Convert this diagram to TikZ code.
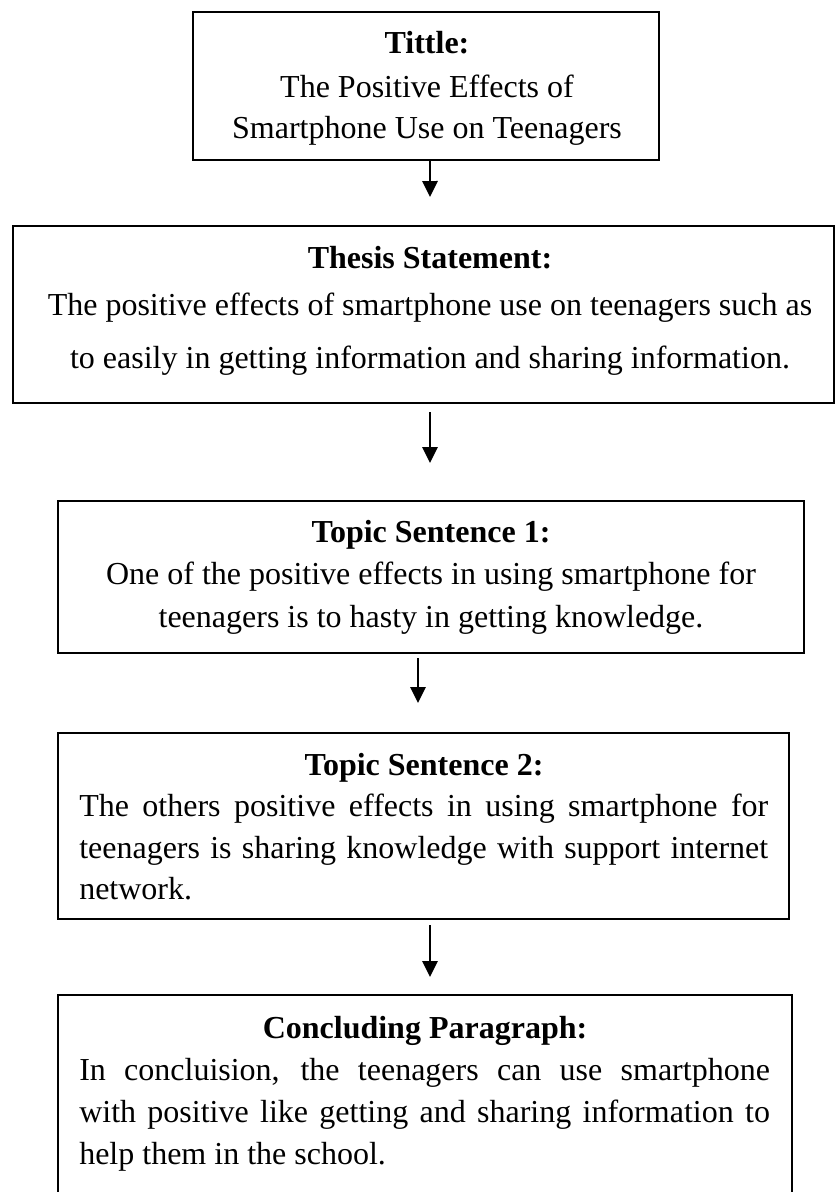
\documentclass[tikz,border=0pt]{standalone}
\usepackage{fontspec}
\setmainfont{Liberation Serif}
\usetikzlibrary{arrows.meta}
\begin{document}
\begin{tikzpicture}[x=0.75pt,y=-0.75pt,
  box/.style={draw, line width=1.4pt, rectangle, inner sep=0pt, outer sep=0pt},
  ln/.style={anchor=base, inner sep=0pt, font=\fontsize{24}{30}\selectfont},
  hd/.style={ln, font=\fontsize{24}{30}\selectfont\bfseries},
  lnw/.style={ln, anchor=base west},
  arr/.style={line width=1.3pt, -{Triangle[length=12pt,width=11.5pt]}}]
\useasboundingbox (0,0) rectangle (835,1192);

% boxes
\node[box, minimum width=349.5pt, minimum height=111pt] (title) at (426,86) {};
\node[box, minimum width=615.75pt, minimum height=132.75pt] (thesis) at (423.5,314.5) {};
\node[box, minimum width=559.5pt, minimum height=114pt] (t1) at (431,577) {};
\node[box, minimum width=548.25pt, minimum height=139.5pt] (t2) at (423.5,826) {};
\node[box, minimum width=550.5pt, minimum height=165pt] (concl) at (425,1105) {};

% title text
\node[hd] (ttl0) at (427,53) {Tittle:};
\node[ln] (ttl1) at (427,97) {The Positive Effects of};
\node[ln] (ttl2) at (427,138) {Smartphone Use on Teenagers};

% thesis text
\node[hd] (th0) at (430,268) {Thesis Statement:};
\node[ln] (th1) at (430,315) {The positive effects of smartphone use on teenagers such as};
\node[ln] (th2) at (430,368) {to easily in getting information and sharing information.};

% topic 1
\node[hd] (a0) at (431,542) {Topic Sentence 1:};
\node[ln] (a1) at (431,584) {One of the positive effects in using smartphone for};
\node[ln] (a2) at (431,627) {teenagers is to hasty in getting knowledge.};

% topic 2
\node[hd] (b0) at (424,775) {Topic Sentence 2:};
\node[lnw] (b1) at (79,816) {\makebox[516.75pt][s]{The others positive effects in using smartphone for}};
\node[lnw] (b2) at (79,858) {\makebox[516.75pt][s]{teenagers is sharing knowledge with support internet}};
\node[lnw] (b3) at (79,899) {network.};

% conclusion
\node[hd] (c0) at (425,1038) {Concluding Paragraph:};
\node[lnw] (c1) at (79,1080) {\makebox[518pt][s]{In concluision, the teenagers can use smartphone}};
\node[lnw] (c2) at (79,1122) {\makebox[518pt][s]{with positive like getting and sharing information to}};
\node[lnw] (c3) at (79,1164) {help them in the school.};

% arrows
\draw[arr, shorten >=21.75pt] ([xshift=3pt]title.south) -- ([xshift=4.9pt]thesis.north);
\draw[arr, shorten <=6.75pt, shorten >=28.5pt] ([xshift=4.9pt]thesis.south) -- ([xshift=-0.75pt]t1.north);
\draw[arr, shorten <=3.75pt, shorten >=22.5pt] ([xshift=-9.75pt]t1.south) -- ([xshift=-4.125pt]t2.north);
\draw[arr, shorten <=4.5pt, shorten >=13.5pt] ([xshift=4.875pt]t2.south) -- ([xshift=3.75pt]concl.north);
\end{tikzpicture}
\end{document}
